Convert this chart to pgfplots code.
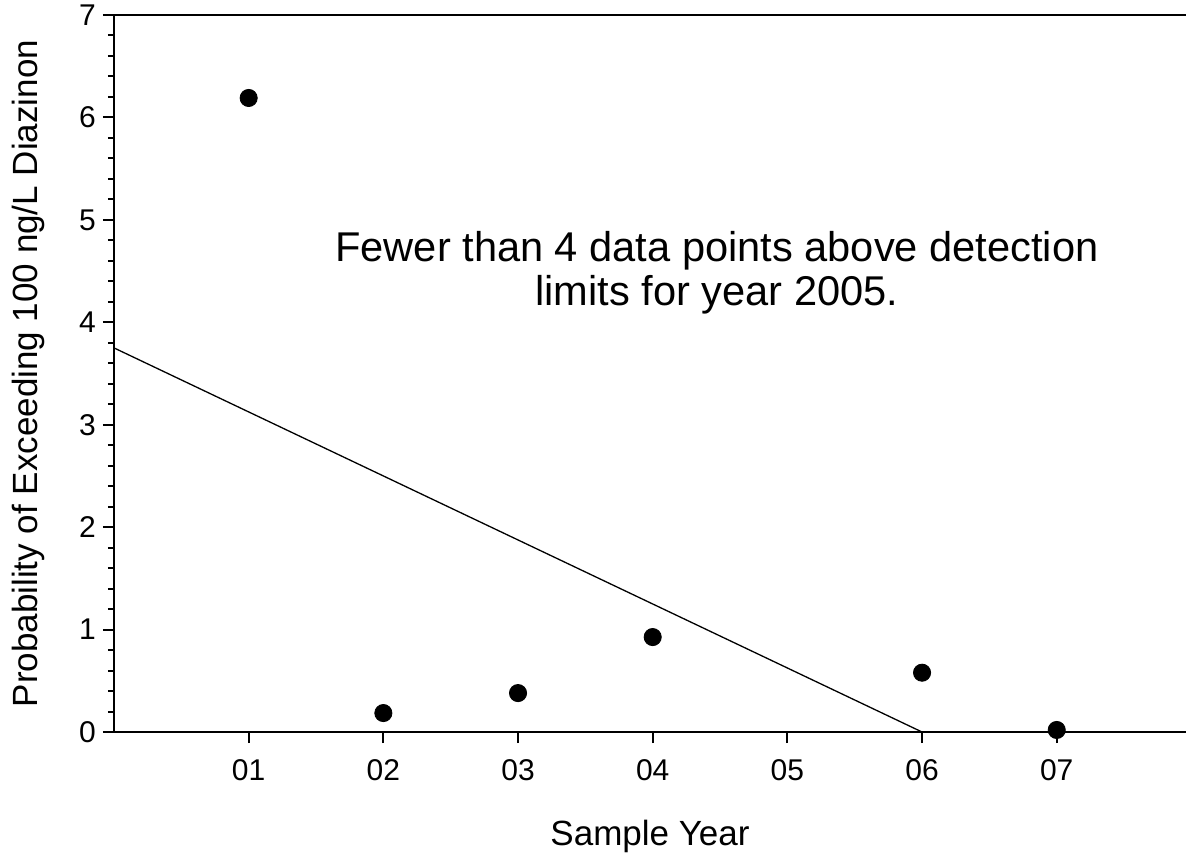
\documentclass[border=0pt]{standalone}
\usepackage{fontspec}
\setmainfont{Liberation Sans}
\usepackage{pgfplots}
\pgfplotsset{compat=1.18}
\begin{document}
\begin{tikzpicture}
\useasboundingbox (-57pt,-62.5pt) rectangle (536pt,366pt);
\begin{axis}[
  at={(0,0)}, anchor=south west,
  scale only axis, width=536pt, height=358.5pt,
  xmin=0, xmax=7.96, ymin=0, ymax=7,
  axis x line*=box, axis y line*=left,
  axis line style={-, line width=1pt, black},
  xtick={1,2,3,4,5,6,7}, xticklabels={01,02,03,04,05,06,07},
  ytick={0,1,2,3,4,5,6,7}, minor y tick num=4,
  xtick pos=left, ytick pos=left,
  tick align=outside,
  major tick length=5.5pt, minor tick length=3pt,
  every tick/.style={black, line width=1pt},
  tick label style={font=\fontsize{15}{17}\selectfont},
  /pgf/number format/assume math mode=true,
  xticklabel style={yshift=-4.5pt},
  label style={font=\fontsize{17.5}{20}\selectfont},
  xlabel={Sample Year},
  xlabel style={at={(rel axis cs:0.5,-0.1576)}, anchor=base},
  ylabel={Probability of Exceeding 100 ng/L Diazinon},
  ylabel style={at={(rel axis cs:-0.0710,0.5)}, anchor=base},
  clip=false,
]
\addplot[black, line width=0.65pt] coordinates {(0,3.75) (6,0)};
\addplot[only marks, mark=*, mark size=4.3pt, black] coordinates {(1,6.19) (2,0.185) (3,0.38) (4,0.927) (6,0.579) (7,0.02)};
\node[align=center, font=\fontsize{20.8}{22}\selectfont] at (axis cs:4.477,4.48) {Fewer than 4 data points above detection\\limits for year 2005.};
\end{axis}
\end{tikzpicture}
\end{document}
